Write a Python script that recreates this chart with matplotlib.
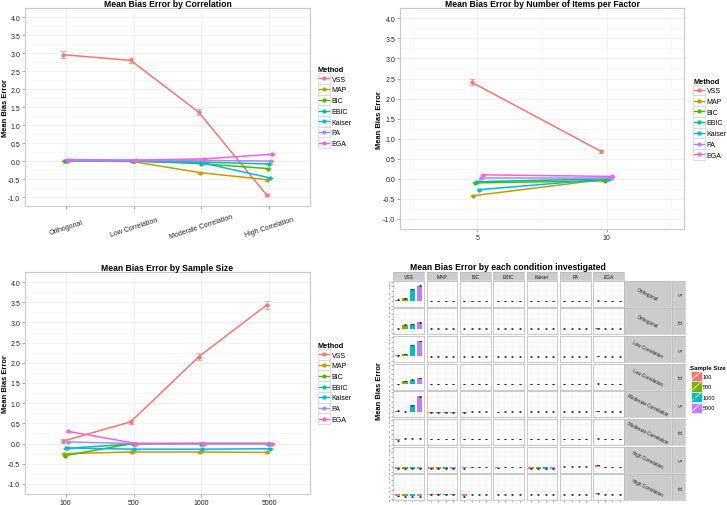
import numpy as np
import matplotlib
matplotlib.use('Agg')
import matplotlib.pyplot as plt
from matplotlib.lines import Line2D
from matplotlib.patches import Rectangle, Patch
from matplotlib.legend_handler import HandlerBase

plt.rcParams['font.family'] = ['Liberation Sans', 'DejaVu Sans']

# ---------------- data ----------------
methods = ['VSS', 'MAP', 'BIC', 'EBIC', 'Kaiser', 'PA', 'EGA']
method_colors = ['#F8766D', '#C49A00', '#53B400', '#00C094', '#00B6EB', '#A58AFF', '#FB61D7']

# Panel 1: by correlation
corr_labels = ['Orthogonal', 'Low Correlation', 'Moderate Correlation', 'High Correlation']
corr_vss = [2.96, 2.80, 1.36, -0.94]
corr_map = [0.00, -0.01, -0.32, -0.52]
corr_bic = [0.00, 0.00, -0.07, -0.21]
corr_ebic = [0.00, 0.00, -0.03, -0.08]
corr_kaiser = [0.00, 0.00, -0.05, -0.47]
corr_pa = [0.01, 0.01, 0.02, 0.00]
corr_ega = [0.04, 0.03, 0.06, 0.19]
corr_vss_err = [0.09, 0.08, 0.09, 0.03]

# Panel 2: by items per factor
items_levels = [5, 10]
items_vss = [2.41, 0.69]
items_map = [-0.42, -0.02]
items_bic = [-0.10, -0.05]
items_ebic = [-0.07, 0.00]
items_kaiser = [-0.27, 0.00]
items_pa = [0.02, 0.02]
items_ega = [0.10, 0.06]
items_vss_err = [0.08, 0.04]

# Panel 3: by sample size
size_labels = ['100', '500', '1000', '5000']
size_vss = [0.06, 0.54, 2.15, 3.43]
size_map = [-0.25, -0.21, -0.21, -0.22]
size_bic = [-0.30, 0.00, 0.00, 0.00]
size_ebic = [-0.12, -0.01, 0.00, 0.00]
size_kaiser = [-0.11, -0.14, -0.14, -0.13]
size_pa = [0.04, 0.00, 0.00, 0.00]
size_ega = [0.30, 0.00, 0.00, 0.00]
size_vss_err = [0.05, 0.05, 0.09, 0.10]

# Panel 4: facets (rows = correlation x items, columns = method, bars = sample size)
facet_row_corr = ['Orthogonal', 'Orthogonal', 'Low Correlation', 'Low Correlation',
                  'Moderate Correlation', 'Moderate Correlation', 'High Correlation', 'High Correlation']
facet_row_items = ['5', '10', '5', '10', '5', '10', '5', '10']
size_colors = ['#F8766D', '#7CAE00', '#00BFC4', '#C77CFF']
cell_vss = [[0.6, 1.3, 6.2, 7.9], [0.0, 2.0, 2.3, 3.2], [0.5, 1.2, 5.8, 8.0], [0.0, 1.6, 2.2, 3.1],
            [0.5, 0.0, 3.2, 7.8], [-0.6, 0.2, 0.3, 0.3], [-0.9, -0.95, -0.95, -0.95], [-0.9, -0.95, -0.95, -0.95]]
cell_map = [[0, 0, 0, 0], [0, 0, 0, 0], [0, 0, 0, 0], [0, 0, 0, 0],
            [-0.6, -0.65, -0.65, -0.65], [0, 0, 0, 0], [-1.0, -1.0, -1.0, -1.0], [-0.05, -0.05, -0.05, -0.05]]
cell_bic = [[0, 0, 0, 0], [0, 0, 0, 0], [0, 0, 0, 0], [0, 0, 0, 0],
            [-0.6, 0, 0, 0], [0, 0, 0, 0], [-0.8, 0, 0, 0], [-1.0, 0, 0, 0]]
cell_ebic = [[0, 0, 0, 0], [0, 0, 0, 0], [0, 0, 0, 0], [0, 0, 0, 0],
             [-0.25, 0, 0, 0], [0, 0, 0, 0], [-0.6, 0, 0, 0], [0, 0, 0, 0]]
cell_kaiser = [[0, 0, 0, 0], [0, 0, 0, 0], [0, 0, 0, 0], [0, 0, 0, 0],
               [-0.1, -0.1, -0.1, -0.1], [0, 0, 0, 0], [-1.0, -1.0, -1.0, -1.0], [0, 0, 0, 0]]
cell_pa = [[0, 0, 0, 0], [0, 0, 0, 0], [0, 0, 0, 0], [0, 0, 0, 0],
           [0, 0, 0, 0], [0, 0, 0, 0], [0.05, 0.05, 0.05, 0.05], [0, 0, 0, 0]]
cell_ega = [[0.2, 0, 0, 0], [0.1, 0, 0, 0], [0.15, 0, 0, 0], [0.1, 0, 0, 0],
            [0.3, 0, 0, 0], [0.2, 0, 0, 0], [0.9, 0, 0, 0], [0.6, 0, 0, 0]]
cell_err = 0.15

corr_series = [corr_vss, corr_map, corr_bic, corr_ebic, corr_kaiser, corr_pa, corr_ega]
items_series = [items_vss, items_map, items_bic, items_ebic, items_kaiser, items_pa, items_ega]
size_series = [size_vss, size_map, size_bic, size_ebic, size_kaiser, size_pa, size_ega]
cell_series = [cell_vss, cell_map, cell_bic, cell_ebic, cell_kaiser, cell_pa, cell_ega]

# ---------------- figure ----------------
W, H = 727, 506
fig = plt.figure(figsize=(W / 100, H / 100), dpi=100)
fig.patch.set_facecolor('white')


def add_ax(x0, y0, x1, y1):
    return fig.add_axes([x0 / W, 1 - y1 / H, (x1 - x0) / W, (y1 - y0) / H])


class KeyLine(HandlerBase):
    def create_artists(self, legend, h, xd, yd, w, hh, fs, trans):
        box = Rectangle((-xd, -yd), w, hh, facecolor='white', edgecolor='#D0D0D0', lw=0.5, transform=trans)
        ln = Line2D([-xd + 0.5, -xd + w - 0.5], [-yd + hh / 2] * 2, color=h.get_color(), lw=1.0, transform=trans)
        pt = Line2D([-xd + w / 2], [-yd + hh / 2], marker='o', ms=2.0, color=h.get_color(), ls='none', transform=trans)
        return [box, ln, pt]


class KeySlash(HandlerBase):
    def create_artists(self, legend, h, xd, yd, w, hh, fs, trans):
        r = Rectangle((-xd, -yd), w, hh, facecolor=h.get_facecolor(), edgecolor='white', lw=0.4, transform=trans)
        ln = Line2D([-xd + 0.5, -xd + w - 0.5], [-yd + 0.5, -yd + hh - 0.5], color='white', lw=0.6, transform=trans)
        return [r, ln]


def style_main(ax):
    ax.set_facecolor('white')
    ax.set_ylim(-1.25, 4.25)
    yt = np.arange(-1.0, 4.01, 0.5)
    ax.set_yticks(yt)
    ax.set_yticklabels([f'{v:.1f}' for v in yt])
    ax.set_yticks(np.arange(-0.75, 4.0, 0.5), minor=True)
    ax.grid(True, which='major', color='#EBEBEB', lw=0.5)
    ax.grid(True, which='minor', color='#F6F6F6', lw=0.4)
    ax.set_axisbelow(True)
    for s in ax.spines.values():
        s.set_color('#C8C8C8')
        s.set_linewidth(0.8)
    ax.tick_params(which='major', labelsize=5, length=2, width=0.5, color='#888888',
                   labelcolor='#222222', pad=1.5)
    ax.tick_params(which='minor', length=0)


def line_panel(ax, x, series, vss_err, width):
    offs = np.linspace(-width / 2, width / 2, len(methods))
    for i, m in enumerate(methods):
        xs = np.asarray(x, float) + offs[i]
        c = method_colors[i]
        err = vss_err if i == 0 else [0.012] * len(xs)
        ax.errorbar(xs, series[i], yerr=err, fmt='none', ecolor=c, alpha=0.6,
                    elinewidth=0.7, capsize=2.2, capthick=0.7, zorder=2)
        ax.plot(xs, series[i], color=c, lw=1.1, marker='o', ms=2.0, zorder=3)


def method_legend(ax, x_px):
    handles = [Line2D([], [], color=c) for c in method_colors]
    bb = ax.get_position()
    ax.legend(handles, methods, title='Method', loc='center left',
              bbox_to_anchor=(x_px / W, (bb.y0 + bb.y1) / 2), bbox_transform=fig.transFigure,
              frameon=False, fontsize=5, title_fontproperties={'weight': 'bold', 'size': 5.3},
              handlelength=1.7, handleheight=2.0, handletextpad=0.25, labelspacing=0.0,
              borderpad=0, borderaxespad=0, alignment='left', handler_map={Line2D: KeyLine()})


title_fs = 6.2
ylab_fs = 5.4

# Panel 1
ax1 = add_ax(25, 9.3, 310, 207)
style_main(ax1)
line_panel(ax1, np.arange(len(corr_labels)), corr_series, corr_vss_err, 0.08)
ax1.set_xlim(-0.6, len(corr_labels) - 0.4)
ax1.set_xticks(np.arange(len(corr_labels)))
ax1.set_xticklabels(corr_labels)
ax1.tick_params(axis='x', pad=13)
for lb in ax1.get_xticklabels():
    lb.set_rotation(18)
    lb.set_va('center')
    lb.set_ha('center')
ax1.set_title('Mean Bias Error by Correlation', fontsize=title_fs, fontweight='bold', pad=1)
ax1.set_ylabel('Mean Bias Error', fontsize=ylab_fs, fontweight='bold')
ax1.yaxis.set_label_coords(-0.057, 0.5)
method_legend(ax1, 318)

# Panel 2
ax2 = add_ax(400, 9.3, 684, 230)
style_main(ax2)
line_panel(ax2, items_levels, items_series, items_vss_err, 0.46)
ax2.set_xlim(2.0, 13.0)
ax2.set_xticks(items_levels)
ax2.set_xticklabels([str(v) for v in items_levels])
ax2.set_xticks([2.5, 7.5, 12.5], minor=True)
ax2.set_title('Mean Bias Error by Number of Items per Factor', fontsize=title_fs, fontweight='bold', pad=1)
ax2.set_ylabel('Mean Bias Error', fontsize=ylab_fs, fontweight='bold')
ax2.yaxis.set_label_coords(-0.061, 0.5)
method_legend(ax2, 693)

# Panel 3
ax3 = add_ax(25, 273, 310, 495)
style_main(ax3)
line_panel(ax3, np.arange(len(size_labels)), size_series, size_vss_err, 0.08)
ax3.set_xlim(-0.6, len(size_labels) - 0.4)
ax3.set_xticks(np.arange(len(size_labels)))
ax3.set_xticklabels(size_labels)
ax3.set_title('Mean Bias Error by Sample Size', fontsize=title_fs, fontweight='bold', pad=1)
ax3.set_ylabel('Mean Bias Error', fontsize=ylab_fs, fontweight='bold')
ax3.yaxis.set_label_coords(-0.057, 0.5)
method_legend(ax3, 318)

# Panel 4: facet grid
col_x0, col_step, col_w = 393.3, 33.33, 30.7
row_y0, row_step, row_h = 281.7, 27.65, 26.0
strip_top = 272.8
wide_x0, wide_x1 = 624.3, 671.0
narrow_x0, narrow_x1 = 672.0, 685.0
fy_ticks = [-2.5, 0.0, 2.5, 5.0, 7.5, 10.0]


def strip_ax(x0, y0, x1, y1):
    a = add_ax(x0, y0, x1, y1)
    a.set_facecolor('#CCCCCC')
    a.set_xticks([])
    a.set_yticks([])
    for s in a.spines.values():
        s.set_color('#B5B5B5')
        s.set_linewidth(0.4)
    return a


n_rows = len(facet_row_corr)
xb = np.arange(1, len(size_labels) + 1)
for j, m in enumerate(methods):
    x0 = col_x0 + j * col_step
    sa = strip_ax(x0, strip_top, x0 + col_w, row_y0 - 0.4)
    sa.text(0.5, 0.5, m, transform=sa.transAxes, ha='center', va='center', fontsize=3.6, color='#1A1A1A')
    for r in range(n_rows):
        y0 = row_y0 + r * row_step
        ax = add_ax(x0, y0, x0 + col_w, y0 + row_h)
        ax.set_facecolor('white')
        vals = cell_series[j][r]
        ax.bar(xb, vals, width=0.7, color=size_colors, zorder=2)
        ax.errorbar(xb, vals, yerr=cell_err, fmt='none', ecolor='#111111', elinewidth=0.4,
                    capsize=0.8, capthick=0.5, zorder=3)
        ax.set_xlim(0.4, 4.6)
        ax.set_ylim(-3.0, 10.5)
        ax.set_xticks(xb)
        ax.set_yticks(fy_ticks)
        ax.set_yticks([-1.25, 1.25, 3.75, 6.25, 8.75], minor=True)
        ax.grid(True, which='major', color='#EBEBEB', lw=0.35)
        ax.grid(True, which='minor', axis='y', color='#F6F6F6', lw=0.3)
        ax.set_axisbelow(True)
        for s in ax.spines.values():
            s.set_color('#C0C0C0')
            s.set_linewidth(0.6)
        ax.tick_params(which='minor', length=0)
        ax.tick_params(axis='x', length=1.5 if r == n_rows - 1 else 0, width=0.4, color='#777777',
                       labelbottom=False)
        if j == 0:
            ax.set_yticklabels([f'{v:.1f}' for v in fy_ticks])
            ax.tick_params(axis='y', length=1.5, width=0.4, color='#777777', labelsize=1.7,
                           labelcolor='#333333', pad=0.5)
            for lb in ax.get_yticklabels():
                lb.set_rotation(90)
                lb.set_va('center')
        else:
            ax.tick_params(axis='y', length=0, labelleft=False)

for r in range(n_rows):
    y0 = row_y0 + r * row_step
    wa = strip_ax(wide_x0, y0, wide_x1, y0 + row_h)
    wa.text(0.5, 0.5, facet_row_corr[r], transform=wa.transAxes, ha='center', va='center',
            rotation=-26, fontsize=3.3, color='#1A1A1A')
    na = strip_ax(narrow_x0, y0, narrow_x1, y0 + row_h)
    na.text(0.5, 0.5, facet_row_items[r], transform=na.transAxes, ha='center', va='center',
            rotation=-90, fontsize=3.3, color='#1A1A1A')

fig.text(508 / W, 1 - 267.5 / H, 'Mean Bias Error by each condition investigated', ha='center', va='center',
         fontsize=title_fs, fontweight='bold')
fig.text(379 / W, 1 - 391 / H, 'Mean Bias Error', rotation=90, ha='center', va='center',
         fontsize=ylab_fs, fontweight='bold')

size_handles = [Patch(facecolor=c) for c in size_colors]
fig.legend(size_handles, size_labels, title='Sample Size', loc='center left',
           bbox_to_anchor=(690.5 / W, 1 - 390 / H), frameon=False, fontsize=4.0,
           title_fontproperties={'weight': 'bold', 'size': 4.4}, handlelength=2.0, handleheight=2.4,
           handletextpad=0.25, labelspacing=0.1, borderpad=0, borderaxespad=0, alignment='left',
           handler_map={Patch: KeySlash()})

fig.savefig('out.png', dpi=100, facecolor='white')
